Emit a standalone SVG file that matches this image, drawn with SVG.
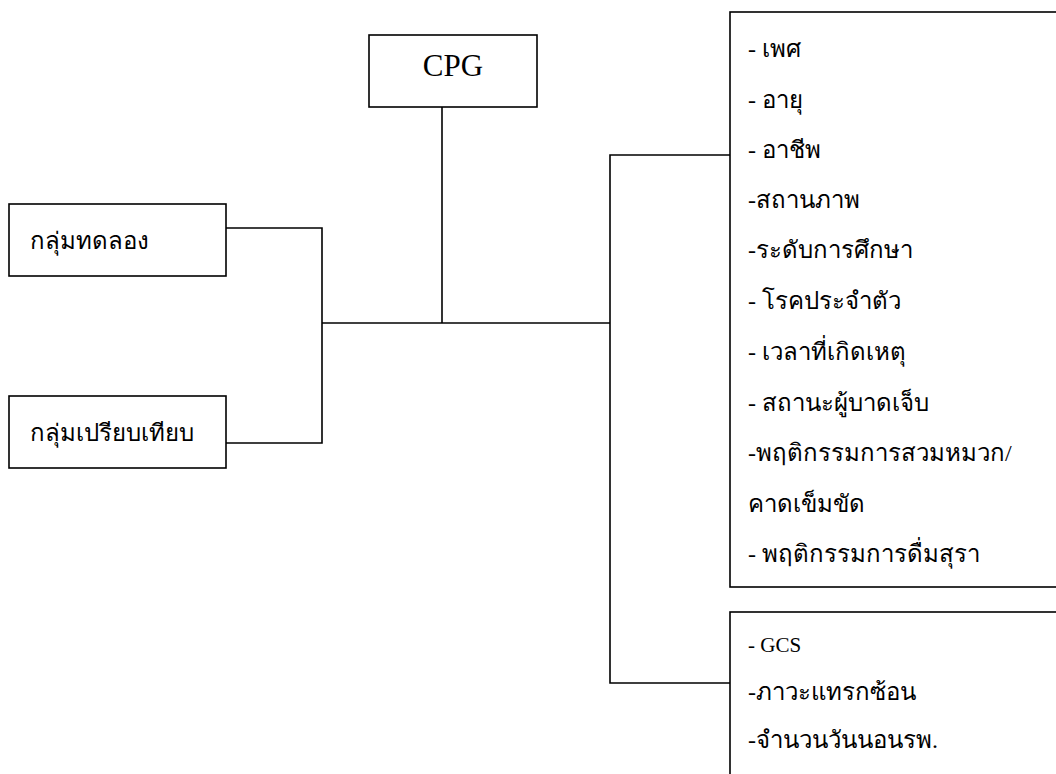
<svg xmlns="http://www.w3.org/2000/svg" width="1056" height="774" viewBox="0 0 1056 774">
<style>
.box{fill:#fff;stroke:#000;stroke-width:1.6}
.ln{fill:none;stroke:#000;stroke-width:1.6}
text{font-family:"Liberation Serif",serif;fill:#000}
.t{font-size:24px}
.g{font-size:21px}
.big{font-size:31px}
</style>
<rect width="1056" height="774" fill="#fff"/>
<g id="connectors">
<path class="ln" d="M442,107 V323"/>
<path class="ln" d="M226,228 H322 V443 H226"/>
<path class="ln" d="M322,323 H610"/>
<path class="ln" d="M732,155 H610 V683 H732"/>
</g>
<g id="cpg">
<rect class="box" x="369" y="35" width="168" height="72"/>
<text class="big" x="453" y="76" text-anchor="middle">CPG</text>
</g>
<g id="experimental">
<rect class="box" x="9" y="204" width="217" height="72"/>
<text class="t" x="30" y="249">กลุ่มทดลอง</text>
</g>
<g id="comparison">
<rect class="box" x="9" y="396" width="217" height="72"/>
<text class="t" x="30" y="441">กลุ่มเปรียบเทียบ</text>
</g>
<g id="factors">
<rect class="box" x="730" y="12" width="340" height="575"/>
<text class="t" x="748" y="57">- เพศ</text>
<text class="t" x="748" y="108">- อายุ</text>
<text class="t" x="748" y="158">- อาชีพ</text>
<text class="t" x="748" y="208">-สถานภาพ</text>
<text class="t" x="748" y="258">-ระดับการศึกษา</text>
<text class="t" x="748" y="309">- โรคประจำตัว</text>
<text class="t" x="748" y="360">- เวลาที่เกิดเหตุ</text>
<text class="t" x="748" y="411">- สถานะผู้บาดเจ็บ</text>
<text class="t" x="748" y="461">-พฤติกรรมการสวมหมวก/</text>
<text class="t" x="748" y="512">คาดเข็มขัด</text>
<text class="t" x="748" y="562">- พฤติกรรมการดื่มสุรา</text>
</g>
<g id="outcomes">
<rect class="box" x="730" y="612" width="340" height="180"/>
<text class="g" x="748" y="652">- GCS</text>
<text class="t" x="748" y="700">-ภาวะแทรกซ้อน</text>
<text class="t" x="748" y="748">-จำนวนวันนอนรพ.</text>
</g>
</svg>
